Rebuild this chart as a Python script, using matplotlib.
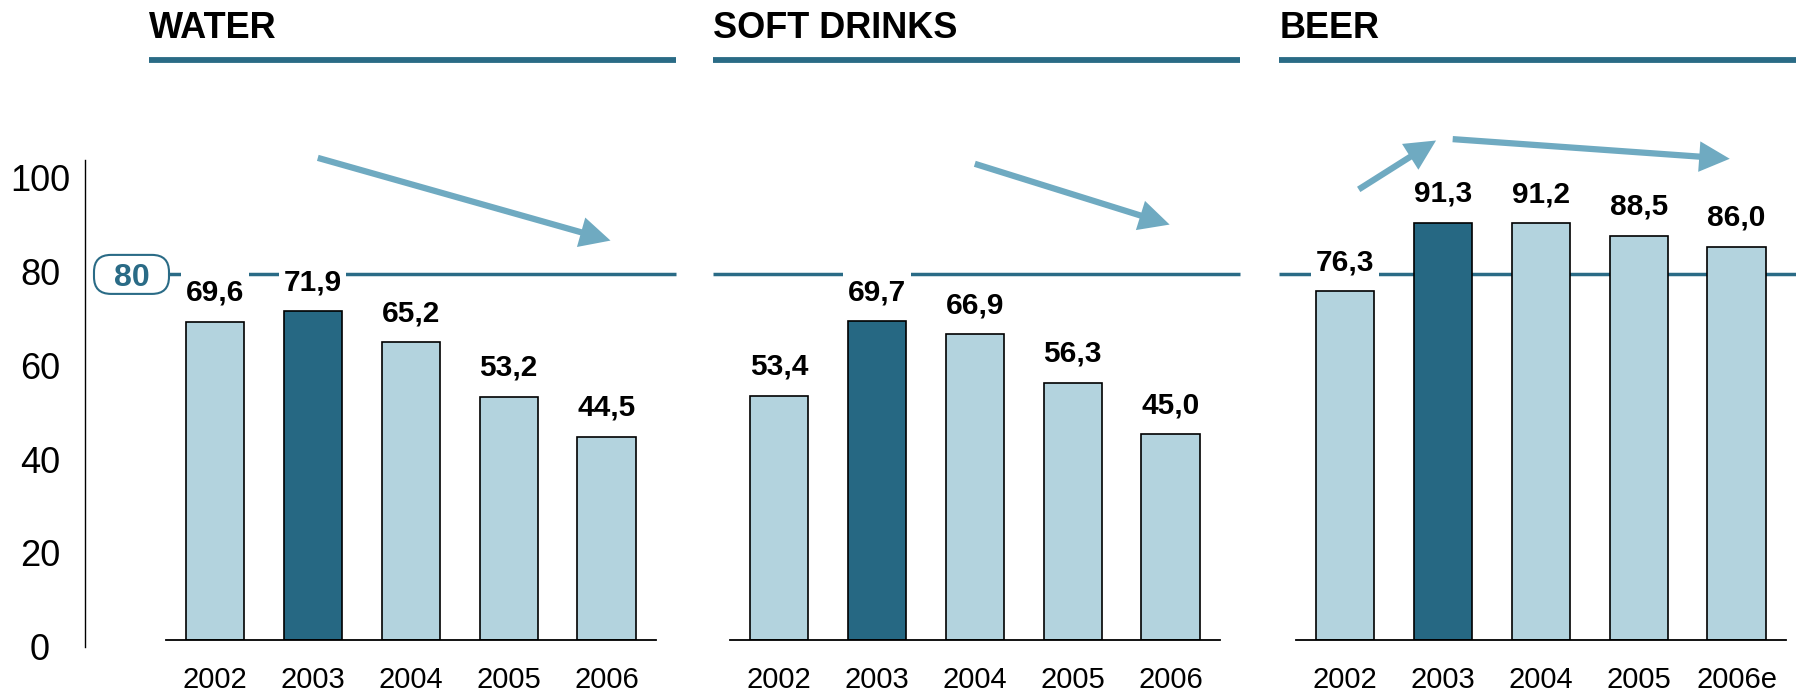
import matplotlib
matplotlib.use("Agg")
import matplotlib.pyplot as plt
from matplotlib.patches import FancyBboxPatch
from matplotlib.path import Path

plt.rcParams['font.family'] = ['Liberation Sans', 'DejaVu Sans']

# ---------------- data ----------------
panel_titles = ["WATER", "SOFT DRINKS", "BEER"]
years_std = ["2002", "2003", "2004", "2005", "2006"]
years_beer = ["2002", "2003", "2004", "2005", "2006e"]
water = [69.6, 71.9, 65.2, 53.2, 44.5]
soft_drinks = [53.4, 69.7, 66.9, 56.3, 45.0]
beer = [76.3, 91.3, 91.2, 88.5, 86.0]
highlight_index = 1          # 2003 highlighted
target_value = 80
y_ticks = [0, 20, 40, 60, 80, 100]

# trend arrows (tail x, tail y, tip x, tip y) in each panel's data space
water_arrows = [(1.05, 105.5, 4.04, 87.4)]
soft_arrows = [(2.0, 104.2, 3.99, 90.9)]
beer_arrows = [(0.14, 98.6, 0.93, 109.3), (1.10, 109.6, 3.93, 105.3)]

series = [water, soft_drinks, beer]
year_labels = [years_std, years_std, years_beer]
arrows = [water_arrows, soft_arrows, beer_arrows]

# ---------------- style ----------------
DARK = "#266883"
LIGHT = "#b3d3de"
TEAL = "#2a6b86"
ARROW = "#6faac1"

W, H = 1796, 699
fig = plt.figure(figsize=(W / 100, H / 100), dpi=100)

px_per_unit_x = 97.9
px_per_val = 4.57
ymax = 115
ax_h = ymax * px_per_val / H
ax_bottom = (H - 640) / H
ax_w = 5 * px_per_unit_x / W
centers_2002 = [215, 779, 1345]


def label_box(x0, y0, width, height, mutation_size):
    px = 0.15 * mutation_size
    ptop = 0.40 * mutation_size
    pbot = 0.05 * mutation_size
    xa, xb = x0 - px, x0 + width + px
    ya, yb = y0 - pbot, y0 + height + ptop
    return Path([(xa, ya), (xb, ya), (xb, yb), (xa, yb), (xa, ya)], closed=True)


for p, (title, vals, ylabels, arrs) in enumerate(zip(panel_titles, series, year_labels, arrows)):
    left = (centers_2002[p] - 0.5 * px_per_unit_x) / W
    ax = fig.add_axes([left, ax_bottom, ax_w, ax_h])
    ax.set_xlim(-0.5, 4.5)
    ax.set_ylim(0, ymax)
    ax.patch.set_alpha(0)
    for s in ["left", "right", "top"]:
        ax.spines[s].set_visible(False)
    ax.spines["bottom"].set_linewidth(1.3)
    ax.spines["bottom"].set_zorder(4)
    ax.set_yticks([])
    x = list(range(len(vals)))
    colors = [DARK if i == highlight_index else LIGHT for i in x]
    ax.bar(x, vals, width=0.595, color=colors, edgecolor="black", linewidth=1.2, zorder=2)
    ax.set_xticks(x)
    ax.set_xticklabels(ylabels, fontsize=21)
    ax.tick_params(axis="x", length=0, pad=18.5)

    # target line
    line_start = -0.47 if p == 0 else -0.67
    ax.plot([line_start, 4.71], [target_value, target_value], color=TEAL, lw=2.5,
            solid_capstyle="butt", zorder=1, clip_on=False)

    # value labels
    for xi, v in zip(x, vals):
        ax.text(xi, v + 4.6, f"{v:.1f}".replace(".", ","), ha="center", va="baseline",
                fontsize=21.5, fontweight="bold", zorder=3,
                bbox=dict(boxstyle=label_box, fc="white", ec="none"))

    # title + bar
    ax.text(-0.67, 131.66, title, fontsize=26, fontweight="bold", ha="left",
            va="baseline", clip_on=False)
    ax.plot([-0.67, 4.71], [126.9, 126.9], color=TEAL, lw=4.2, solid_capstyle="butt",
            clip_on=False)

    # trend arrows
    for (xt, yt, xh, yh) in arrs:
        ax.annotate("", xy=(xh, yh), xytext=(xt, yt), annotation_clip=False,
                    arrowprops=dict(arrowstyle="simple,head_length=2.2,head_width=2.2,tail_width=0.45",
                                    mutation_scale=10, color=ARROW, lw=0,
                                    shrinkA=0, shrinkB=0), zorder=5)

    if p == 0:
        # "80" target badge
        bw, bh = 75 / px_per_unit_x, 39 / px_per_val
        cx = -0.853
        r = 17 / px_per_unit_x
        aspect = (1 / px_per_val) / (1 / px_per_unit_x)
        badge = FancyBboxPatch((cx - bw / 2, target_value - bh / 2), bw, bh,
                               boxstyle=f"round,pad=0,rounding_size={r}",
                               mutation_aspect=aspect, fc="white", ec=TEAL, lw=1.5,
                               clip_on=False, zorder=3)
        ax.add_patch(badge)
        ax.text(cx, target_value, str(target_value), ha="center", va="center_baseline",
                fontsize=23, fontweight="bold", color=TEAL, zorder=4, clip_on=False)

# left value axis
yb = (H - 646.7) / H
yh = (646.7 - 160) / H
ax_y = fig.add_axes([85 / W, yb, 0.01, yh])
ax_y.set_ylim(0, (646.7 - 160) / 4.692)
ax_y.patch.set_alpha(0)
for s in ["right", "top", "bottom"]:
    ax_y.spines[s].set_visible(False)
ax_y.spines["left"].set_linewidth(1.0)
ax_y.set_xticks([])
ax_y.set_yticks(y_ticks)
ax_y.set_yticklabels([str(t) for t in y_ticks], fontsize=26)
ax_y.tick_params(axis="y", length=0, pad=32.4)
for lbl in ax_y.get_yticklabels():
    lbl.set_horizontalalignment("center")

fig.savefig("out.png", dpi=100)
